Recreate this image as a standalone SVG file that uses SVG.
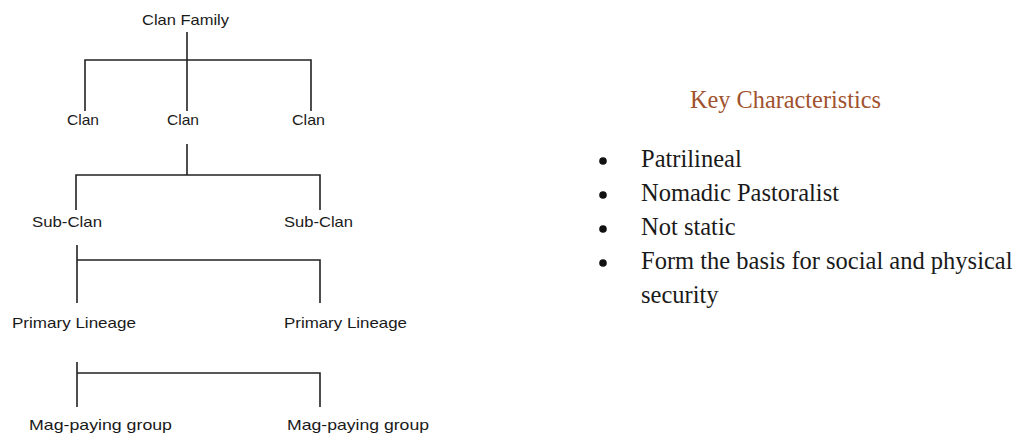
<svg xmlns="http://www.w3.org/2000/svg" width="1016" height="435" viewBox="0 0 1016 435">
  <style>
    .lbl { font-family: "Liberation Sans", Arial, sans-serif; font-size: 15px; fill: #1a1a1a; }
    .link { stroke: #222; stroke-width: 1.6; fill: none; }
    .title { font-family: "Liberation Serif", "Times New Roman", serif; font-size: 24.3px; fill: #A0522D; }
    .item { font-family: "Liberation Serif", "Times New Roman", serif; font-size: 24.5px; fill: #1a1a1a; }
    .dot { fill: #111; }
  </style>
  <rect width="1016" height="435" fill="#fff"/>

  <!-- tree connectors -->
  <g id="connectors">
    <path class="link" d="M187 32 V111 M85 111 V60 H311 V111"/>
    <path class="link" d="M187 144 V175 M76 210 V175 H320 V210"/>
    <path class="link" d="M77 245 V303 M77 260 H320 V303"/>
    <path class="link" d="M77 362 V407 M77 373 H320 V407"/>
  </g>

  <!-- hierarchy nodes -->
  <g id="clan-family"><text class="lbl" x="142" y="25" textLength="87" lengthAdjust="spacingAndGlyphs">Clan Family</text></g>
  <g id="clan-1"><text class="lbl" x="67" y="125" textLength="32" lengthAdjust="spacingAndGlyphs">Clan</text></g>
  <g id="clan-2"><text class="lbl" x="167" y="125" textLength="32" lengthAdjust="spacingAndGlyphs">Clan</text></g>
  <g id="clan-3"><text class="lbl" x="292" y="125" textLength="33" lengthAdjust="spacingAndGlyphs">Clan</text></g>
  <g id="sub-clan-1"><text class="lbl" x="32" y="227" textLength="70" lengthAdjust="spacingAndGlyphs">Sub-Clan</text></g>
  <g id="sub-clan-2"><text class="lbl" x="284" y="227" textLength="69" lengthAdjust="spacingAndGlyphs">Sub-Clan</text></g>
  <g id="primary-lineage-1"><text class="lbl" x="12" y="328" textLength="124" lengthAdjust="spacingAndGlyphs">Primary Lineage</text></g>
  <g id="primary-lineage-2"><text class="lbl" x="284" y="328" textLength="123" lengthAdjust="spacingAndGlyphs">Primary Lineage</text></g>
  <g id="mag-paying-1"><text class="lbl" x="29" y="430" textLength="143" lengthAdjust="spacingAndGlyphs">Mag-paying group</text></g>
  <g id="mag-paying-2"><text class="lbl" x="287" y="430" textLength="142" lengthAdjust="spacingAndGlyphs">Mag-paying group</text></g>

  <!-- characteristics list -->
  <g id="key-characteristics">
    <text class="title" x="690" y="108">Key Characteristics</text>
    <circle class="dot" cx="603" cy="161" r="3.8"/>
    <text class="item" x="641" y="167">Patrilineal</text>
    <circle class="dot" cx="603" cy="195" r="3.8"/>
    <text class="item" x="641" y="201">Nomadic Pastoralist</text>
    <circle class="dot" cx="603" cy="229" r="3.8"/>
    <text class="item" x="641" y="235">Not static</text>
    <circle class="dot" cx="603" cy="263" r="3.8"/>
    <text class="item" x="641" y="269">Form the basis for social and physical</text>
    <text class="item" x="641" y="303">security</text>
  </g>
</svg>
